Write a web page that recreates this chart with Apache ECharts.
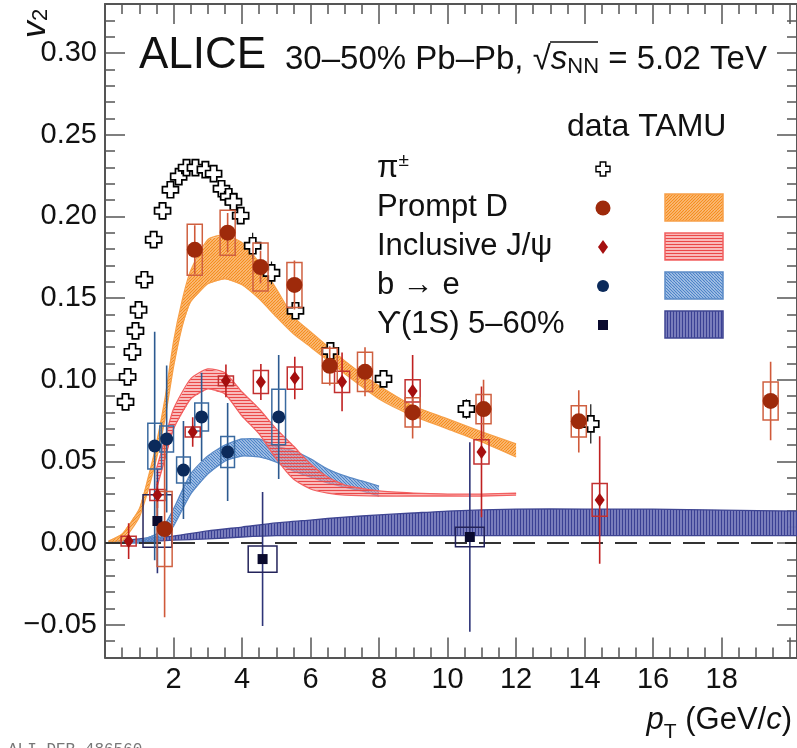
<!DOCTYPE html>
<html><head><meta charset="utf-8">
<script src="https://cdn.jsdelivr.net/npm/echarts@6/dist/echarts.min.js"></script>
<style>html,body{margin:0;padding:0;background:#fff}#c{width:797px;height:748px}</style>
</head><body><div id="c"></div>
<script>
// ---------------- data ----------------
// pi+- (data)
const pionX = [0.60,0.66,0.80,0.89,0.98,1.15,1.42,1.68,1.91,2.15,2.38,2.64,2.93,3.17,3.40,3.61,3.75,3.96,4.31,4.86,5.56,6.58,8.13,10.55,14.18];
const pionY = [0.0864,0.1017,0.1170,0.1299,0.1428,0.1612,0.1857,0.2034,0.2163,0.2243,0.2298,0.2298,0.2286,0.2261,0.2169,0.2120,0.2089,0.2004,0.1820,0.1654,0.1422,0.1176,0.1005,0.0821,0.0729];
const pionStat = [0.002,0.002,0.002,0.002,0.002,0.002,0.002,0.002,0.002,0.002,0.003,0.003,0.003,0.003,0.003,0.003,0.004,0.005,0.008,0.007,0.005,0.004,0.004,0.006,0.012];
// Prompt D
const dX = [1.74,2.62,3.58,4.54,5.53,6.56,7.59,8.98,11.05,13.83,19.43];
const dY = [0.0086,0.1795,0.190,0.169,0.158,0.1085,0.1048,0.080,0.082,0.0745,0.087];
const dStat = [0.054,0.015,0.012,0.010,0.015,0.012,0.015,0.016,0.018,0.019,0.024];
const dSys = [0.023,0.0156,0.0138,0.0147,0.0138,0.0107,0.012,0.009,0.009,0.0095,0.0116];
// Inclusive J/psi
const jX = [0.69,1.53,2.56,3.53,4.55,5.54,6.92,8.98,10.99,14.44];
const jY = [0.0012,0.0294,0.068,0.0993,0.0986,0.101,0.0987,0.0931,0.0558,0.0264];
const jStat = [0.011,0.008,0.009,0.010,0.011,0.013,0.018,0.022,0.040,0.039];
const jSys = [0.003,0.0034,0.003,0.003,0.007,0.0068,0.0065,0.0068,0.0074,0.010];
// b -> e
const bX = [1.45,1.80,2.29,2.82,3.58,5.07];
const bY = [0.0594,0.0637,0.0447,0.0772,0.0558,0.0772];
const bStat = [0.070,0.045,0.030,0.027,0.030,0.038];
const bSys = [0.014,0.008,0.008,0.0086,0.0095,0.017];
// Upsilon(1S)
const uX = [1.53,4.60,10.65];
const uY = [0.0135,-0.0098,0.0037];
const uStat = [0.032,0.041,0.058];
const uSys = [0.016,0.008,0.006];
// TAMU bands
const dBandX = [0.1,0.5,1.0,1.25,1.5,1.75,2.0,2.25,2.5,3.0,3.5,4.0,4.5,5.0,5.5,6,7,8,9,10,11,12];
const dBandHi = [0.0012,0.0055,0.0208,0.0392,0.0607,0.0882,0.1232,0.1483,0.1667,0.1857,0.1887,0.1838,0.1716,0.1556,0.1385,0.1293,0.1115,0.0962,0.0839,0.0760,0.0680,0.0607];
const dBandLo = [0.0,0.0012,0.0159,0.0319,0.0515,0.0760,0.1078,0.1324,0.1477,0.1587,0.1618,0.1581,0.1495,0.1385,0.1281,0.1201,0.1036,0.0882,0.0778,0.0699,0.0619,0.0527];
const jBandX = [1.5,1.75,2.0,2.5,3.0,3.5,4.0,4.5,5.0,5.5,6.0,6.5,7,8,9,10,11,12];
const jBandHi = [0.0453,0.0637,0.0821,0.1005,0.1066,0.1042,0.0925,0.0821,0.0699,0.0594,0.0484,0.0404,0.0355,0.0319,0.0306,0.0300,0.0300,0.0306];
const jBandLo = [0.0331,0.0515,0.0699,0.0882,0.0944,0.0913,0.0778,0.0668,0.0515,0.0392,0.0331,0.0306,0.0294,0.0288,0.0288,0.0288,0.0288,0.0294];
const bBandX = [0.1,0.5,1.0,1.5,1.75,2.0,2.5,3.0,3.5,4.0,4.5,5.0,5.5,6,6.5,7,7.5,8];
const bBandHi = [0.0006,0.0012,0.0018,0.0055,0.0116,0.0208,0.0423,0.0533,0.0600,0.0637,0.0637,0.0594,0.0564,0.0515,0.0453,0.0411,0.0380,0.0349];
const bBandLo = [0.0,0.0,0.0,0.0012,0.0043,0.0104,0.0300,0.0423,0.0502,0.0533,0.0527,0.0496,0.0441,0.0404,0.0368,0.0343,0.0319,0.0288];
const uBandX = [0.1,1,2,3,4,5,6,7,8,9,10,12,14,16,18,20.2];
const uBandHi = [0.0006,0.0025,0.0043,0.0074,0.0098,0.0123,0.0141,0.0159,0.0172,0.0184,0.0196,0.0208,0.0208,0.0208,0.0202,0.0196];
const uBandLo = [0.0,0.0006,0.0018,0.0025,0.0037,0.0045,0.0045,0.0045,0.0045,0.0045,0.0045,0.0045,0.0045,0.0045,0.0045,0.0045];
// axis tick labels
const xTickLabels = [2,4,6,8,10,12,14,16,18];
const yTickLabels = ['−0.05','0.00','0.05','0.10','0.15','0.20','0.25','0.30'];

// ---------------- styling helpers ----------------
const FONT = 'Liberation Sans, Arial, Helvetica, sans-serif';
function hatch(kind, bg, fg, s, gap, lw) {
  const c = document.createElement('canvas'); c.width = s; c.height = s;
  const g = c.getContext('2d');
  g.fillStyle = bg; g.fillRect(0, 0, s, s);
  g.strokeStyle = fg; g.lineWidth = lw; g.beginPath();
  if (kind === 'h') for (let y = gap / 2; y < s; y += gap) { g.moveTo(0, y); g.lineTo(s, y); }
  if (kind === 'v') for (let x = gap / 2; x < s; x += gap) { g.moveTo(x, 0); g.lineTo(x, s); }
  if (kind === '/') for (let k = -s; k <= 2 * s; k += gap) { g.moveTo(k, s); g.lineTo(k + s, 0); }
  if (kind === '\\') for (let k = -s; k <= 2 * s; k += gap) { g.moveTo(k, 0); g.lineTo(k + s, s); }
  g.stroke();
  return { image: c, repeat: 'repeat' };
}
const patOrange = hatch('/', 'rgba(250,178,105,0.75)', '#f58d1c', 6, 3, 1.2);
const patRed = hatch('h', 'rgba(245,140,140,0.6)', '#ea4848', 6, 3, 1.2);
const patBlue = hatch('\\', 'rgba(140,175,222,0.6)', '#4a82c8', 6, 3, 1.2);
const patNavy = hatch('v', 'rgba(150,153,205,0.95)', '#3a4094', 6, 3, 1.7);

const pairs = (xs, ys) => xs.map((x, i) => [x, ys[i]]);
// band drawn as one polygon through the axes' scales
function bandSeries(xs, lo, hi, edge, pat, z) {
  return {
    type: 'custom', z: z, silent: true, clip: true,
    data: xs.map((x, i) => [x, lo[i], hi[i]]),
    renderItem: function (params, api) {
      if (params.dataIndex !== 0) return null;
      const up = xs.map((x, i) => api.coord([x, hi[i]]));
      const dn = xs.map((x, i) => api.coord([x, lo[i]]));
      const poly = up.concat(dn.slice().reverse());
      return { type: 'group', children: [
        { type: 'polygon', shape: { points: poly }, style: { fill: pat, stroke: 'none' } },
        { type: 'polyline', shape: { points: up, smooth: 0.2 }, style: { fill: 'none', stroke: edge, lineWidth: 1.3 } },
        { type: 'polyline', shape: { points: dn, smooth: 0.2 }, style: { fill: 'none', stroke: edge, lineWidth: 1.3 } }
      ] };
    }
  };
}
function errSeries(xs, ys, st, sy, halfW, boxColor, barColor, barW, z) {
  return {
    type: 'custom', z: z, silent: true, clip: true,
    data: xs.map((x, i) => [x, ys[i], st[i], sy[i]]),
    renderItem: function (params, api) {
      const x = api.value(0), y = api.value(1), s = api.value(2), e = api.value(3);
      const a = api.coord([x, y + s]), b = api.coord([x, y - s]);
      const ch = [{ type: 'line', shape: { x1: a[0], y1: a[1], x2: b[0], y2: b[1] }, style: { stroke: barColor, lineWidth: barW } }];
      if (halfW > 0) {
        const p1 = api.coord([x - halfW, y + e]), p2 = api.coord([x + halfW, y - e]);
        ch.push({ type: 'rect', shape: { x: p1[0], y: p1[1], width: p2[0] - p1[0], height: p2[1] - p1[1] },
          style: { fill: 'none', stroke: boxColor, lineWidth: 1.5 } });
      }
      return { type: 'group', children: ch };
    }
  };
}
function markerSeries(xs, ys, symbol, size, color, border, bw, z) {
  return { type: 'scatter', data: pairs(xs, ys), symbol: symbol, symbolSize: size, z: z, silent: true,
    itemStyle: { color: color, borderColor: border || color, borderWidth: bw || 0, opacity: 1 } };
}
const crossPath = 'path://M3,0H7V3H10V7H7V10H3V7H0V3H3Z';
const crossUnit = [[3,0],[7,0],[7,3],[10,3],[10,7],[7,7],[7,10],[3,10],[3,7],[0,7],[0,3],[3,3]];

const C_D = '#9e2a0b', C_Dbox = '#cf6040', C_J = '#a50f0f', C_Jbox = '#c23030', C_B = '#0b2a5b', C_Bbox = '#3a6aa0', C_U = '#0a0a2e', C_Ubox = '#23235a';

const axisCommon = {
  type: 'value', splitLine: { show: false },
  axisLine: { show: true, onZero: false, lineStyle: { color: '#555', width: 2 } },
  axisTick: { show: true, inside: true, length: 20, lineStyle: { color: '#555', width: 1.5 } },
  minorTick: { show: true, length: 10, lineStyle: { color: '#555', width: 1.5 } }
};
const labelStyle = { color: '#111', fontSize: 29, fontFamily: FONT };

const series = [
  bandSeries(uBandX, uBandLo, uBandHi, '#3f4592', patNavy, 1),
  bandSeries(bBandX, bBandLo, bBandHi, '#5b8ac6', patBlue, 1),
  bandSeries(jBandX, jBandLo, jBandHi, '#f26060', patRed, 1),
  bandSeries(dBandX, dBandLo, dBandHi, '#f7a048', patOrange, 1),
  { type: 'line', data: [], markLine: { silent: true, symbol: ['none', 'none'], label: { show: false },
    lineStyle: { color: '#333', width: 1.8, type: [22, 12] }, data: [{ yAxis: 0 }] }, z: 2 },
  errSeries(pionX, pionY, pionStat, pionStat, 0, '#000', '#111', 1.2, 3),
  markerSeries(pionX, pionY, crossPath, 16, '#fff', '#000', 1.7, 4),
  errSeries(uX, uY, uStat, uSys, 0.42, C_Ubox, '#2e3478', 1.6, 5),
  errSeries(bX, bY, bStat, bSys, 0.2, C_Bbox, '#2c5a90', 1.6, 5),
  errSeries(jX, jY, jStat, jSys, 0.22, C_Jbox, '#c02020', 1.6, 5),
  errSeries(dX, dY, dStat, dSys, 0.22, C_Dbox, '#d05a3a', 1.6, 5),
  markerSeries(uX, uY, 'rect', 10, C_U, null, 0, 6),
  markerSeries(bX, bY, 'circle', 13, C_B, null, 0, 6),
  markerSeries(jX, jY, 'diamond', [10, 14], C_J, null, 0, 6),
  markerSeries(dX, dY, 'circle', 16, C_D, null, 0, 6)
];

const legendRows = [
  { label: '{a|π}{sup|±}', y: 168 },
  { label: '{a|Prompt D}', y: 207 },
  { label: '{a|Inclusive J/ψ}', y: 246 },
  { label: '{a|b → e}', y: 285 },
  { label: '{a|ϒ(1S) 5–60%}', y: 324 }
];
const richBase = {
  a: { fontSize: 31, fontFamily: FONT, fill: '#111' },
  sup: { fontSize: 19, fontFamily: FONT, fill: '#111', verticalAlign: 'top', padding: [0, 0, 14, 0] }
};
const graphic = [];
legendRows.forEach(r => graphic.push({ type: 'text', x: 377, y: r.y, z: 10,
  style: { text: r.label, rich: richBase, fill: '#111', verticalAlign: 'middle', align: 'left' } }));
// legend markers
graphic.push({ type: 'polygon', z: 10, shape: { points: crossUnit.map(p => [596 + p[0] * 1.4, 162 + p[1] * 1.4]) },
  style: { fill: '#fff', stroke: '#000', lineWidth: 1.4 } });
graphic.push({ type: 'circle', z: 10, shape: { cx: 603, cy: 208, r: 7.5 }, style: { fill: C_D } });
graphic.push({ type: 'polygon', z: 10, shape: { points: [[603, 240], [608, 247], [603, 254], [598, 247]] }, style: { fill: C_J } });
graphic.push({ type: 'circle', z: 10, shape: { cx: 603, cy: 286, r: 6 }, style: { fill: C_B } });
graphic.push({ type: 'rect', z: 10, shape: { x: 598, y: 320, width: 10, height: 10 }, style: { fill: C_U } });
// legend band boxes
[[194, patOrange, '#f7a048'], [233, patRed, '#f26060'], [272, patBlue, '#5b8ac6'], [311, patNavy, '#3f4592']].forEach(b =>
  graphic.push({ type: 'rect', z: 10, shape: { x: 665, y: b[0], width: 58, height: 27 }, style: { fill: b[1], stroke: b[2], lineWidth: 1.5 } }));
// titles
graphic.push({ type: 'text', x: 139, y: 56, z: 10, style: { text: 'ALICE', font: '44px ' + FONT, fill: '#111', verticalAlign: 'middle' } });
graphic.push({ type: 'text', x: 567, y: 127, z: 10, style: { text: 'data TAMU', font: '32px ' + FONT, fill: '#111', verticalAlign: 'middle' } });
graphic.push({ type: 'text', x: 285, y: 60, z: 10, style: {
  text: '{a|30–50% Pb–Pb, }{r|√}{i|s}{n|NN}{a| = 5.02 TeV}', verticalAlign: 'middle',
  rich: {
    a: { fontSize: 33, fontFamily: FONT, fill: '#111' },
    r: { fontSize: 33, fontFamily: FONT, fill: '#111' },
    i: { fontSize: 33, fontFamily: FONT, fontStyle: 'italic', fill: '#111' },
    n: { fontSize: 22, fontFamily: FONT, fill: '#111', verticalAlign: 'bottom', padding: [14, 0, 0, 0] }
  } } });
graphic.push({ type: 'line', z: 10, shape: { x1: 550, y1: 42, x2: 598, y2: 42 }, style: { stroke: '#111', lineWidth: 1.5 } });
// axis titles
graphic.push({ type: 'text', x: 792, y: 720, z: 10, style: {
  text: '{i|p}{s|T}{a| (GeV/}{i|c}{a|)}', align: 'right', verticalAlign: 'middle',
  rich: {
    a: { fontSize: 31, fontFamily: FONT, fill: '#111' },
    i: { fontSize: 31, fontFamily: FONT, fontStyle: 'italic', fill: '#111' },
    s: { fontSize: 21, fontFamily: FONT, fill: '#111', padding: [24, 0, 0, 0] }
  } } });
graphic.push({ type: 'text', x: 53, y: 38, rotation: Math.PI / 2, z: 10, style: {
  text: '{i|v}{s|2}', align: 'left', verticalAlign: 'bottom',
  rich: {
    i: { fontSize: 34, fontFamily: FONT, fontStyle: 'italic', fill: '#111' },
    s: { fontSize: 22, fontFamily: FONT, fill: '#111', padding: [10, 0, 0, 0] }
  } } });
graphic.push({ type: 'text', x: 8, y: 742, z: 10, style: { text: 'ALI-DER-486560', font: '16px Liberation Mono, monospace', fill: '#777' } });

const option = {
  animation: false,
  backgroundColor: '#fff',
  grid: { left: 105, right: 0, top: 4, bottom: 90.6, containLabel: false, outerBoundsMode: 'none' },
  xAxis: [
    Object.assign({}, axisCommon, { min: 0, max: 20.2, interval: 2, position: 'bottom',
      minorTick: Object.assign({}, axisCommon.minorTick, { splitNumber: 4 }),
      axisLabel: Object.assign({}, labelStyle, { margin: 8, showMaxLabel: false,
        formatter: v => (xTickLabels.indexOf(v) >= 0 ? String(v) : '') }) }),
    Object.assign({}, axisCommon, { min: 0, max: 20.2, interval: 2, position: 'top',
      minorTick: Object.assign({}, axisCommon.minorTick, { splitNumber: 4 }), axisLabel: { show: false } })
  ],
  yAxis: [
    Object.assign({}, axisCommon, { min: -0.07, max: 0.33, minInterval: 0.05, maxInterval: 0.05, splitNumber: 8, position: 'left',
      minorTick: Object.assign({}, axisCommon.minorTick, { splitNumber: 5 }),
      axisLabel: Object.assign({}, labelStyle, { margin: 8, showMinLabel: false, showMaxLabel: false,
        formatter: v => { const s = (v < 0 ? '−' : '') + Math.abs(v).toFixed(2); return yTickLabels.indexOf(s) >= 0 ? s : ''; } }) }),
    Object.assign({}, axisCommon, { min: -0.07, max: 0.33, minInterval: 0.05, maxInterval: 0.05, splitNumber: 8, position: 'right',
      minorTick: Object.assign({}, axisCommon.minorTick, { splitNumber: 5 }), axisLabel: { show: false } })
  ],
  series: series,
  graphic: graphic
};
const chart = echarts.init(document.getElementById('c'), null, { renderer: 'canvas' });
chart.setOption(option);
</script></body></html>
